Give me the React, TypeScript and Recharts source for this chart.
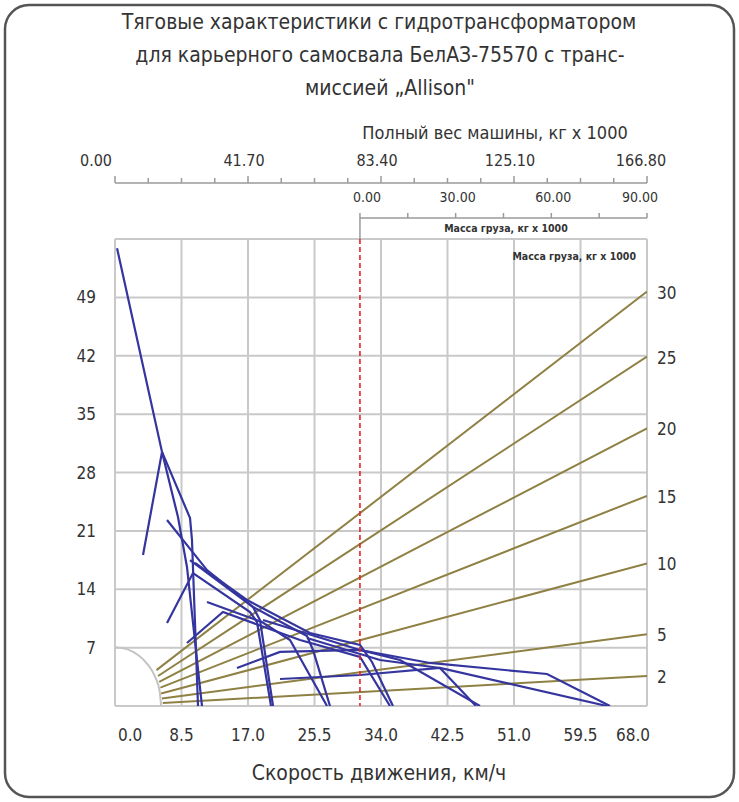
import React from "react";
import { LineChart, Line, XAxis, YAxis, CartesianGrid, ReferenceLine } from "recharts";

// axes
const speedTicks = [0, 8.5, 17, 25.5, 34, 42.5, 51, 59.5, 68];
const forceTicks = [0, 7, 14, 21, 28, 35, 42, 49, 56];
const weightTicks = [
  0, 10.425, 20.85, 31.275, 41.7, 52.125, 62.55, 72.975, 83.4, 93.825, 104.25, 114.675, 125.1, 135.525,
  145.95, 156.375, 166.8,
];
const weightLabels = [0, 41.7, 83.4, 125.1, 166.8];
const cargoTicks = [0, 15, 30, 45, 60, 75, 90];
const cargoLabels = [0, 30, 60, 90];
const emptyWeight = 76.8;

// road grade lines (label, start point, force at 68 km/h)
const gradeNames = ["30", "25", "20", "15", "10", "5", "2"];
const gradeStartX = [5.3, 5.5, 5.65, 5.8, 5.9, 6.0, 6.1];
const gradeStartY = [4.3, 3.6, 2.9, 2.2, 1.5, 0.9, 0.35];
const gradeEndY = [49.7, 41.9, 33.3, 25.2, 17.1, 8.6, 3.6];

// grey arc near origin
const arcX = [0, 1.53, 2.95, 4.17, 5.11, 5.7, 5.9];
const arcY = [7.06, 6.82, 6.11, 4.99, 3.53, 1.83, 0];

// traction curves per gear, [speed, force]
const gear1Upper = [[0.26, 54.9], [6.01, 30.46], [9.59, 22.54], [9.84, 19.91], [10.61, 0]];
const gear1Lower = [[3.58, 18.1], [6.01, 30.46], [8.05, 22.66], [9.2, 16.67], [11.12, 0]];
const gear2Upper = [[6.65, 22.3], [11.76, 16.3], [17.64, 11.87], [18.53, 10.31], [20.2, 0]];
const gear2Lower = [[6.65, 9.95], [9.97, 15.95], [17.26, 11.27], [18.15, 10.07], [19.94, 0]];
const gear3Upper = [[9.59, 17.5], [17.64, 11.87], [24.54, 8.39], [25.31, 6.72], [27.48, 0]];
const gear3Lower = [[11.76, 12.47], [18.79, 10.07], [22.37, 7.91], [27.1, 0]];
const gear4Upper = [[10.23, 17.15], [16.87, 12.71], [24.92, 8.75], [31.32, 7.31], [32.85, 5.28], [35.53, 0]];
const gear4Lower = [[9.2, 7.55], [13.8, 11.27], [23.65, 7.91], [31.32, 5.88], [35.15, 0]];
const gear5Upper = [[15.59, 4.56], [21.09, 6.48], [31.32, 6.72], [36.43, 5.52], [46.65, 0]];
const gear5Lower = [[24.54, 8.15], [33.87, 5.52], [41.54, 4.56], [46.14, 0]];
const gear6Upper = [[18.92, 10.31], [31.32, 6.72], [40.26, 5.16], [55.22, 3.84], [63.27, 0]];
const gear6Lower = [[21.09, 3.24], [31.32, 3.72], [41.54, 4.56], [62.89, 0]];

const gearCurves = [
  gear1Upper, gear1Lower, gear2Upper, gear2Lower, gear3Upper, gear3Lower,
  gear4Upper, gear4Lower, gear5Upper, gear5Lower, gear6Upper, gear6Lower,
];

const W = 739;
const H = 802;
const PLOT_LEFT = 115;
const PLOT_TOP = 239;
const PLOT_RIGHT = 647;
const PLOT_BOTTOM = 706;
const PLOT_W = PLOT_RIGHT - PLOT_LEFT;

const FONT = '"DejaVu Sans Condensed", "Liberation Sans Narrow", "DejaVu Sans", sans-serif';
const TEXT = "#333";
const BLUE = "#35359f";
const TAN = "#8f8143";
const GRID = "#c9c9c9";
const AXIS = "#9a9a9a";

const toPoints = (pairs: number[][]) => pairs.map(([x, y]) => ({ x, y }));
const gradeSeries = gradeNames.map((name, i) => ({
  name,
  data: [
    { x: gradeStartX[i], y: gradeStartY[i] },
    { x: 68, y: gradeEndY[i] },
  ],
}));
const arcData = arcX.map((x, i) => ({ x, y: arcY[i] }));
// invisible anchors so the two top axes have series bound to them
const weightAnchor = weightLabels.map((x) => ({ x, y: 0 }));
const cargoAnchor = cargoLabels.map((x) => ({ x, y: 0 }));

function WeightTick(props: any) {
  const { x, index, payload } = props;
  const v = payload.value;
  const labelled = weightLabels.includes(v);
  const last = v === 166.8;
  return (
    <g>
      {index === 0 && <line x1={x} x2={x + PLOT_W} y1={183} y2={183} stroke={AXIS} strokeWidth={1.5} />}
      <line x1={x} x2={x} y1={183} y2={labelled ? 176 : 178} stroke={AXIS} strokeWidth={1.5} />
      {labelled && (
        <text
          x={index === 0 ? x - 19 : last ? x - 6 : x - 4}
          y={166}
          textAnchor="middle"
          fontSize={16}
          fontFamily={FONT}
          fill={TEXT}
        >
          {v.toFixed(2)}
        </text>
      )}
    </g>
  );
}

function CargoTick(props: any) {
  const { x, index, payload } = props;
  const v = payload.value;
  const labelled = cargoLabels.includes(v);
  const len = (PLOT_W * 90) / (90 + emptyWeight);
  return (
    <g>
      {index === 0 && (
        <>
          <line x1={x} x2={x + len} y1={218} y2={218} stroke={AXIS} strokeWidth={1.5} />
          <line x1={x} x2={x} y1={218} y2={PLOT_TOP} stroke={AXIS} strokeWidth={1.5} />
        </>
      )}
      <line x1={x} x2={x} y1={218} y2={213} stroke={AXIS} strokeWidth={1.5} />
      {labelled && (
        <text
          x={index === 0 ? x + 7 : v === 90 ? x - 7 : x + 2}
          y={202}
          textAnchor="middle"
          fontSize={14}
          fontFamily={FONT}
          fill={TEXT}
        >
          {v.toFixed(2)}
        </text>
      )}
    </g>
  );
}

function SpeedTick(props: any) {
  const { x, index, payload } = props;
  const first = index === 0;
  const last = index === speedTicks.length - 1;
  return (
    <text
      x={first ? x + 3 : last ? x + 3 : x}
      y={741}
      textAnchor={first ? "start" : last ? "end" : "middle"}
      fontSize={17}
      fontFamily={FONT}
      fill={TEXT}
    >
      {payload.value.toFixed(1)}
    </text>
  );
}

function ForceTick(props: any) {
  const { y, payload } = props;
  const v = payload.value;
  if (v === 0 || v === 56) return <g />;
  return (
    <text x={96} y={y + 6} textAnchor="end" fontSize={17} fontFamily={FONT} fill={TEXT}>
      {v}
    </text>
  );
}

export default function App() {
  return (
    <div style={{ position: "absolute", left: 0, top: 0, width: W, height: H, background: "#fff" }}>
      <LineChart
        width={W}
        height={H}
        margin={{ top: PLOT_TOP - 60, left: PLOT_LEFT - 40, right: W - PLOT_RIGHT, bottom: H - PLOT_BOTTOM - 40 }}
      >
        <CartesianGrid xAxisId="speed" yAxisId="force" stroke={GRID} strokeWidth={2} />
        <XAxis
          xAxisId="speed"
          type="number"
          dataKey="x"
          domain={[0, 68]}
          ticks={speedTicks}
          interval={0}
          allowDataOverflow
          axisLine={false}
          tickLine={false}
          height={40}
          tick={<SpeedTick />}
        />
        <XAxis
          xAxisId="weight"
          orientation="top"
          type="number"
          dataKey="x"
          domain={[0, 166.8]}
          ticks={weightTicks}
          interval={0}
          allowDataOverflow
          axisLine={false}
          tickLine={false}
          height={30}
          tick={<WeightTick />}
        />
        <XAxis
          xAxisId="cargo"
          orientation="top"
          type="number"
          dataKey="x"
          domain={[-emptyWeight, 90]}
          ticks={cargoTicks}
          interval={0}
          allowDataOverflow
          axisLine={false}
          tickLine={false}
          height={30}
          tick={<CargoTick />}
        />
        <YAxis
          yAxisId="force"
          type="number"
          domain={[0, 56]}
          ticks={forceTicks}
          interval={0}
          allowDataOverflow
          axisLine={false}
          tickLine={false}
          width={40}
          tick={<ForceTick />}
        />
        <Line
          xAxisId="weight"
          yAxisId="force"
          data={weightAnchor}
          dataKey="y"
          stroke="none"
          dot={false}
          isAnimationActive={false}
        />
        <Line
          xAxisId="cargo"
          yAxisId="force"
          data={cargoAnchor}
          dataKey="y"
          stroke="none"
          dot={false}
          isAnimationActive={false}
        />
        <Line
          xAxisId="speed"
          yAxisId="force"
          data={arcData}
          dataKey="y"
          type="monotone"
          stroke="#c4c4c4"
          strokeWidth={2}
          dot={false}
          isAnimationActive={false}
        />
        {gradeSeries.map((g) => (
          <Line
            key={g.name}
            xAxisId="speed"
            yAxisId="force"
            data={g.data}
            dataKey="y"
            name={g.name}
            stroke={TAN}
            strokeWidth={2}
            dot={false}
            isAnimationActive={false}
            label={(p: any) =>
              p.index === 1 ? (
                <text key={g.name} x={p.x + 10} y={p.y + 7} fontSize={17} fontFamily={FONT} fill={TEXT}>
                  {g.name}
                </text>
              ) : null
            }
          />
        ))}
        {gearCurves.map((c, i) => (
          <Line
            key={"gear" + i}
            xAxisId="speed"
            yAxisId="force"
            data={toPoints(c)}
            dataKey="y"
            stroke={BLUE}
            strokeWidth={2.2}
            dot={false}
            isAnimationActive={false}
          />
        ))}
        <ReferenceLine
          xAxisId="weight"
          yAxisId="force"
          x={emptyWeight}
          stroke="#e52222"
          strokeWidth={1.6}
          strokeDasharray="5 3"
        />
      </LineChart>
      <svg
        width={W}
        height={H}
        style={{ position: "absolute", left: 0, top: 0, pointerEvents: "none" }}
        fontFamily={FONT}
      >
        <rect x={5} y={5} width={729} height={792} rx={24} fill="none" stroke="#555" strokeWidth={2.5} />
        <text x={379} y={29} textAnchor="middle" fontSize={21} fill={TEXT}>
          Тяговые характеристики с гидротрансформатором
        </text>
        <text x={380} y={62} textAnchor="middle" fontSize={21} fill={TEXT}>
          для карьерного самосвала БелАЗ-75570 с транс-
        </text>
        <text x={390} y={95} textAnchor="middle" fontSize={21} fill={TEXT}>
          миссией „Allison"
        </text>
        <text x={495} y={139} textAnchor="middle" fontSize={18} fill={TEXT}>
          Полный вес машины, кг x 1000
        </text>
        <text x={506} y={232} textAnchor="middle" fontSize={10.5} fontWeight="bold" fill={TEXT}>
          Масса груза, кг x 1000
        </text>
        <text x={636} y={260} textAnchor="end" fontSize={10.5} fontWeight="bold" fill={TEXT}>
          Масса груза, кг x 1000
        </text>
        <text x={379} y={780} textAnchor="middle" fontSize={21} fill={TEXT}>
          Скорость движения, км/ч
        </text>
      </svg>
    </div>
  );
}
